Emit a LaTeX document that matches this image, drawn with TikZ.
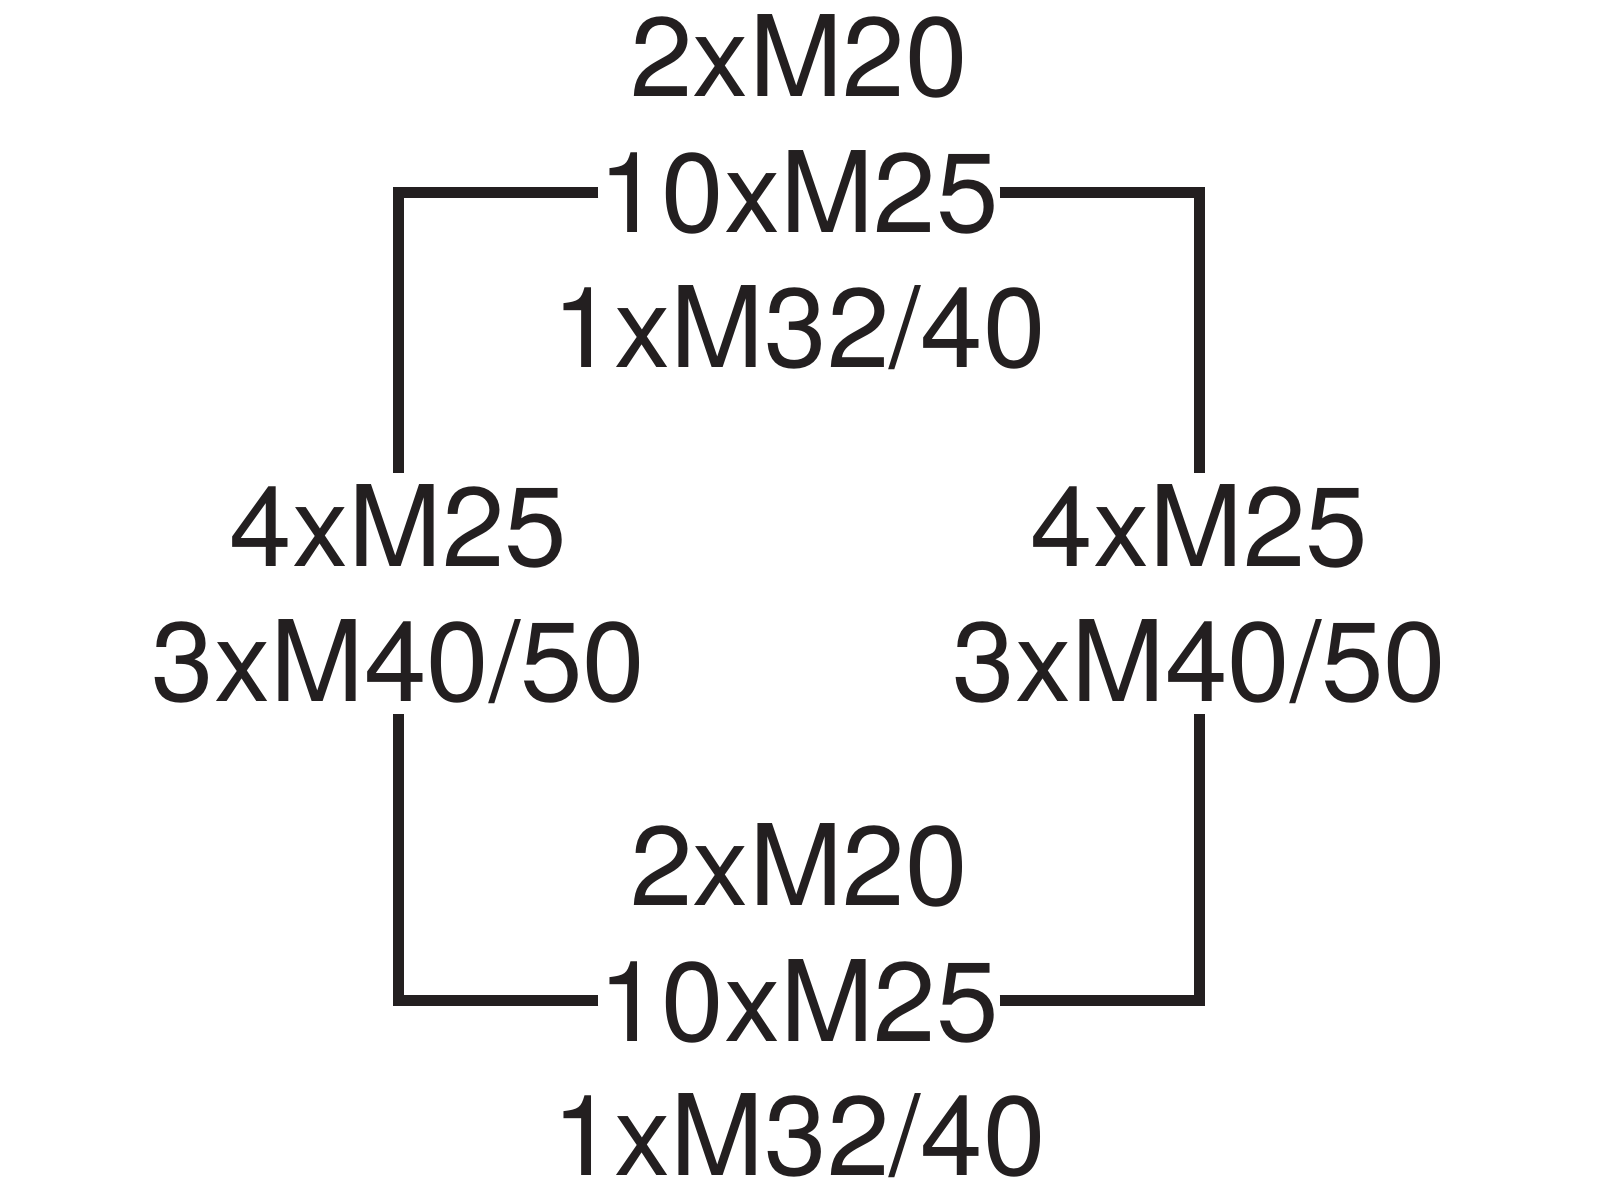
\documentclass[tikz,border=0pt]{standalone}
\usepackage{fontspec}
\setmainfont{TeX Gyre Heros}
\definecolor{ink}{HTML}{231F20}
\begin{document}
\begin{tikzpicture}[
    lbl/.style={anchor=base, inner xsep=0pt, inner ysep=0.1cm, text=ink, font=\fontsize{32}{38}\selectfont},
    wire/.style={draw=ink, line width=0.11cm, line join=miter}]
    \useasboundingbox (0,0) rectangle (16,12);
    \def\L{3.985}
    \def\C{7.99}
    \def\R{11.995}
    \foreach \n/\x/\y/\txt in {t1/\C/11.03/2xM20, t2/\C/9.67/10xM25, t3/\C/8.32/1xM32\slash 40,%
    l1/\L/6.34/4xM25, l2/\L/4.99/3xM40\slash 50,%
    r1/\R/6.34/4xM25, r2/\R/4.99/3xM40\slash 50,%
    b1/\C/2.95/2xM20, b2/\C/1.59/10xM25, b3/\C/0.25/1xM32\slash 40}
    {
    \node[lbl] (\n) at (\x,\y) {\txt};
    }
    \draw[wire] (t2.west) -| (l1.north);
    \draw[wire] (t2.east) -| (r1.north);
    \draw[wire] (b2.west) -| (l2.south);
    \draw[wire] (b2.east) -| (r2.south);
\end{tikzpicture}
\end{document}
